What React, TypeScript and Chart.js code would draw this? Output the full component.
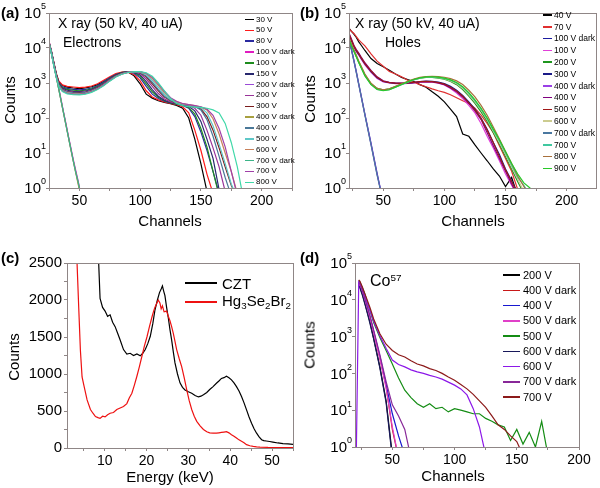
import React, { useEffect, useRef } from "react";
import { Chart, registerables } from "chart.js";

Chart.register(...registerables);

const FONT = '"Liberation Sans", Arial, Helvetica, sans-serif';
const AXIS = "#8f8686";

// ---------------- Panel (a): X ray, electrons ----------------
const aChannels = [25, 27, 29, 31, 33, 36, 40, 45, 50, 55, 60, 65, 70, 75, 80, 85, 90, 95, 100, 105, 110, 115, 120, 125, 130, 135, 140, 145, 150, 155, 160, 165, 170, 175, 180, 185];
const aDarkChannels = [25, 27, 29, 31, 33, 35, 37, 39, 41, 43, 45, 47, 49, 51];
const a30V = [15000, 8000, 3800, 1800, 1100, 850, 760, 720, 690, 730, 780, 900, 1100, 1400, 1750, 2000, 2050, 1600, 950, 480, 370, 310, 280, 255, 230, 190, 100, 25, 5, 0.8];
const a50V = [15500, 8200, 3900, 1900, 1150, 880, 800, 770, 740, 760, 820, 950, 1200, 1500, 1850, 2050, 2050, 1750, 1150, 600, 400, 330, 290, 260, 240, 210, 140, 45, 12, 2.5, 0.7];
const a80V = [15000, 8000, 3700, 1800, 1050, 780, 700, 660, 640, 660, 720, 850, 1080, 1400, 1750, 2000, 2100, 1900, 1400, 800, 480, 360, 300, 270, 250, 230, 190, 110, 40, 12, 3, 0.7];
const a100Vd = [16000, 7500, 3400, 1600, 720, 330, 145, 68, 30, 14, 6.5, 3.2, 1.6, 0.7];
const a100V = [14500, 7800, 3600, 1750, 1000, 740, 660, 620, 600, 620, 680, 800, 1020, 1350, 1700, 1980, 2100, 2000, 1550, 950, 560, 390, 310, 270, 250, 235, 200, 130, 50, 15, 3, 0.6];
const a150V = [14500, 7600, 3500, 1700, 950, 700, 620, 580, 570, 590, 650, 770, 980, 1300, 1650, 1950, 2100, 2050, 1700, 1100, 650, 420, 320, 275, 255, 240, 215, 160, 80, 25, 7, 0.9];
const a200Vd = [15500, 7200, 3300, 1500, 690, 310, 140, 64, 29, 13, 6, 2.9, 1.4, 0.6];
const a200V = [14000, 7400, 3400, 1650, 900, 660, 580, 550, 540, 560, 620, 740, 950, 1250, 1600, 1900, 2080, 2100, 1850, 1300, 800, 500, 350, 290, 260, 245, 225, 190, 120, 45, 14, 4, 0.8];
const a300V = [14000, 7300, 3300, 1600, 880, 640, 560, 530, 520, 540, 600, 720, 920, 1220, 1580, 1880, 2060, 2120, 1950, 1500, 950, 600, 400, 310, 270, 250, 235, 215, 180, 110, 45, 14, 4, 1.2, 0.5];
const a400Vd = [15000, 7000, 3200, 1450, 670, 300, 135, 62, 28, 12.5, 5.8, 2.7, 1.3, 0.6];
const a400V = [13500, 7200, 3300, 1600, 870, 630, 550, 520, 510, 530, 590, 700, 900, 1200, 1550, 1850, 2050, 2100, 2000, 1600, 1050, 650, 420, 320, 275, 250, 235, 215, 170, 90, 30, 8, 2, 0.6];
const a500V = [13500, 7100, 3200, 1550, 850, 610, 530, 500, 495, 515, 575, 690, 880, 1180, 1530, 1830, 2030, 2120, 2050, 1750, 1200, 750, 470, 340, 280, 250, 235, 220, 195, 140, 60, 18, 5, 1.3, 0.5];
const a600V = [13000, 7000, 3200, 1550, 840, 600, 520, 490, 485, 505, 565, 680, 870, 1170, 1520, 1820, 2020, 2130, 2080, 1850, 1350, 850, 530, 360, 290, 255, 240, 225, 205, 170, 95, 35, 10, 3, 0.7];
const a700Vd = [15000, 7100, 3250, 1480, 680, 305, 138, 63, 28, 13, 6, 2.8, 1.5, 0.7];
const a700V = [13000, 6900, 3100, 1500, 830, 590, 510, 480, 475, 495, 555, 670, 860, 1160, 1510, 1810, 2010, 2130, 2100, 1900, 1450, 950, 580, 380, 300, 260, 240, 225, 210, 180, 120, 50, 15, 3, 0.6];
const a800V = [13000, 6800, 3000, 1450, 800, 570, 490, 465, 460, 480, 540, 650, 840, 1130, 1480, 1780, 1990, 2120, 2120, 1950, 1550, 1000, 600, 360, 260, 225, 210, 205, 200, 190, 170, 140, 70, 20, 4, 0.5];
const aTicksX = [25, 50, 75, 100, 125, 150, 175, 200, 225];

// ---------------- Panel (b): X ray, holes ----------------
const bChannels = [22, 24, 26, 28, 30, 32, 35, 40, 45, 50, 55, 60, 65, 70, 75, 80, 85, 90, 95, 100, 105, 110, 115, 120, 125, 130, 135, 140, 145, 150, 155, 160, 165, 170, 175];
const b40V = [37000, 30000, 25000, 20000, 15000, 12000, 8500, 5000, 3600, 2900, 2300, 1800, 1450, 1250, 1100, 900, 760, 560, 420, 290, 180, 110, 35, 30, 17, 10, 6, 3.5, 2.2, 1.1, 2, 0.6];
const b70V = [35000, 30000, 26000, 21000, 17000, 14500, 11500, 6800, 4200, 3000, 2150, 1800, 1500, 1200, 1050, 900, 780, 680, 600, 540, 460, 380, 310, 260, 190, 120, 70, 38, 16, 7, 3, 0.9];
const b100Vd = [17000, 9500, 4500, 2100, 950, 430, 130, 19, 2.6, 0.4];
const b100V = [22000, 15000, 10500, 7800, 6200, 4800, 3300, 2000, 1350, 1080, 1000, 960, 950, 970, 1000, 1050, 1080, 1060, 990, 880, 700, 520, 360, 230, 140, 70, 30, 14, 6, 2.5, 1.2, 0.6];
const b200V = [18000, 12000, 8500, 5800, 4000, 2800, 1700, 950, 700, 640, 680, 790, 920, 1080, 1250, 1380, 1450, 1450, 1380, 1280, 1100, 900, 650, 420, 260, 150, 80, 38, 18, 8, 3.5, 1.5, 0.7];
const b300V = [24000, 16000, 11000, 8200, 6500, 5000, 3500, 2100, 1400, 1100, 1020, 980, 970, 990, 1030, 1100, 1130, 1120, 1060, 960, 800, 620, 440, 290, 180, 100, 48, 20, 9, 3.5, 1.6, 0.7];
const b400Vd = [16000, 9000, 4300, 2000, 900, 410, 125, 18, 2.4, 0.4];
const b400V = [27000, 18000, 12000, 9000, 7200, 5500, 3800, 2300, 1500, 1150, 1050, 1000, 990, 1000, 1020, 1080, 1100, 1080, 1000, 900, 720, 560, 400, 260, 160, 90, 38, 16, 7, 3, 1.3, 0.6];
const b500V = [25000, 17000, 11500, 8500, 6800, 5200, 3600, 2200, 1450, 1120, 1030, 990, 980, 1000, 1040, 1090, 1120, 1100, 1030, 930, 760, 590, 420, 270, 170, 95, 45, 20, 8, 3.3, 1.5, 0.7];
const b600V = [19000, 12500, 8800, 6000, 4100, 2900, 1750, 960, 690, 630, 660, 770, 910, 1070, 1240, 1380, 1460, 1470, 1420, 1320, 1150, 950, 700, 460, 290, 170, 90, 42, 20, 9, 4, 1.8, 0.8];
const b700Vd = [15500, 8800, 4200, 1950, 880, 400, 120, 17, 2.3, 0.4];
const b700V = [18500, 12000, 8400, 5700, 3900, 2750, 1650, 920, 660, 610, 650, 760, 900, 1060, 1230, 1370, 1460, 1490, 1450, 1360, 1200, 1000, 750, 500, 310, 180, 95, 45, 22, 10, 4.5, 2, 1.2, 0.6];
const b800V = [19500, 13000, 9000, 6200, 4200, 3000, 1800, 980, 700, 640, 680, 800, 950, 1120, 1300, 1440, 1520, 1560, 1530, 1460, 1330, 1150, 900, 620, 400, 230, 120, 55, 25, 11, 5, 2.2, 1.1, 0.6];
const b900V = [17500, 11500, 8000, 5500, 3800, 2700, 1600, 900, 650, 600, 640, 760, 910, 1080, 1260, 1400, 1490, 1510, 1470, 1380, 1230, 1030, 780, 530, 330, 190, 100, 48, 24, 11, 5, 2.5, 1.4, 1, 0.6];
const bTicksX = [25, 50, 75, 100, 125, 150, 175, 200];

// ---------------- Panel (c): energy spectra ----------------
const cCztEnergy = [8.5, 8.9, 9.5, 10.1, 10.7, 11.3, 11.9, 12.5, 13.1, 13.7, 14.5, 15.3, 16.1, 16.9, 17.7, 18.5, 19.1, 19.7, 20.3, 20.9, 21.5, 22.0, 22.6, 23.1, 23.5, 23.8, 24.1, 24.4, 24.8, 25.2, 25.6, 26.0, 26.4, 26.8, 27.4, 28.0, 28.6, 29.2, 30.0, 30.8, 31.6, 32.4, 33.0, 33.6, 34.4, 35.1, 35.9, 36.7, 37.3, 37.9, 38.5, 39.1, 39.7, 40.3, 40.9, 41.5, 42.1, 42.7, 43.3, 43.9, 44.5, 45.1, 45.7, 46.3, 46.9, 47.5, 48.0, 48.6, 49.4, 50.2, 51.4, 52.6, 53.8, 55];
const cCztCounts = [2600, 2020, 1900, 1850, 1780, 1800, 1700, 1640, 1550, 1460, 1330, 1270, 1280, 1250, 1270, 1245, 1280, 1330, 1410, 1510, 1680, 1860, 2000, 2100, 2150, 2190, 2120, 2060, 1900, 1760, 1600, 1460, 1300, 1150, 1000, 880, 820, 785, 760, 740, 710, 690, 700, 720, 750, 790, 830, 875, 905, 940, 950, 970, 950, 920, 880, 830, 770, 695, 610, 515, 420, 335, 260, 200, 150, 112, 100, 95, 88, 80, 68, 58, 55, 50];
const cHgEnergy = [3.2, 3.4, 3.8, 4.2, 4.6, 5.1, 5.8, 6.6, 7.2, 7.8, 8.4, 8.9, 9.5, 10.1, 10.7, 11.3, 12.1, 12.9, 13.7, 14.5, 15.3, 15.9, 16.5, 17.1, 17.7, 18.3, 18.9, 19.5, 20.1, 20.7, 21.3, 21.7, 22.0, 22.4, 22.8, 23.2, 23.5, 23.8, 24.2, 24.8, 25.2, 25.6, 26.0, 26.4, 26.8, 27.2, 27.8, 28.4, 29.0, 29.6, 30.2, 30.8, 31.4, 32.0, 32.8, 33.6, 34.4, 35.1, 35.9, 36.7, 37.3, 37.9, 38.5, 39.1, 39.7, 40.3, 40.9, 41.5, 42.1, 42.7, 43.3, 43.9, 44.7, 45.5, 46.3, 47.1, 49, 52, 55];
const cHgCounts = [2700, 2500, 1900, 1320, 960, 830, 650, 520, 470, 425, 410, 400, 430, 420, 450, 470, 480, 520, 540, 560, 600, 680, 740, 850, 970, 1100, 1240, 1380, 1500, 1640, 1770, 1850, 1900, 1950, 2000, 1960, 1880, 1920, 1840, 1850, 1780, 1720, 1640, 1550, 1440, 1330, 1210, 1100, 950, 790, 640, 520, 430, 360, 300, 250, 220, 205, 200, 200, 205, 210, 215, 220, 205, 180, 160, 135, 110, 90, 70, 45, 30, 22, 16, 12, 8, 6, 5];
const cTicksX = [5, 10, 15, 20, 25, 30, 35, 40, 45, 50, 55];
const cTicksY = [0, 250, 500, 750, 1000, 1250, 1500, 1750, 2000, 2250, 2500];

// ---------------- Panel (d): Co-57 ----------------
const dChannels = [21, 23, 24, 26, 28, 30, 32, 35, 40, 45, 50, 55, 60, 65, 70, 75, 80, 85, 90, 95, 100, 105, 110, 115, 120, 125, 130, 135, 140, 145, 150, 155, 160, 165, 170, 175];
const d200V = [null, 25000, 22000, 14000, 8000, 4500, 2500, 900, 150, 18, 0.6];
const d400Vd = [null, 28000, 25000, 16000, 9500, 5500, 3200, 1300, 260, 45, 3, 0.5];
const d400V = [null, 28000, 25000, 16500, 10000, 6000, 3500, 1400, 290, 50, 8, 2, 0.6];
const d500Vd = [null, 27000, 24000, 15500, 9200, 5300, 3100, 1250, 250, 40, 3.5, 0.5];
const d500V = [null, 33000, 30000, 21000, 14000, 8500, 5200, 2400, 950, 420, 180, 75, 35, 22, 15, 12, 15, 11, 12, 9, 11, 10, 9, 8, 8, 6, 5, 4, 3.5, 1.5, 3, 1.2, 2.5, 1, 5, 0.6];
const d600Vd = [null, 24000, 21000, 13000, 7500, 4200, 2300, 850, 140, 16, 0.5];
const d600V = [0.5, 31000, 28000, 19000, 12500, 8000, 5200, 2600, 1050, 480, 230, 175, 150, 125, 110, 100, 88, 80, 70, 58, 48, 38, 26, 11, 3.5, 0.6];
const d700Vd = [null, 30000, 27000, 17500, 10500, 6300, 3700, 1500, 320, 60, 14, 7, 3, 0.5];
const d700V = [null, 35000, 32000, 22000, 14500, 9500, 6200, 3000, 1200, 620, 420, 320, 280, 220, 180, 160, 135, 120, 100, 80, 65, 50, 38, 27, 18, 12, 7, 4, 3, 2, 1.4, 0.6];
const dTicksX = [25, 50, 75, 100, 125, 150, 175, 200];

const logTicks = [1, 10, 100, 1000, 10000, 100000];

type Series = { label: string; color: string; x: number[]; y: (number | null)[] };

const aSeries: Series[] = [
  { label: "30 V", color: "#000000", x: aChannels, y: a30V },
  { label: "50 V", color: "#ff1a1a", x: aChannels, y: a50V },
  { label: "80 V", color: "#2a2aa0", x: aChannels, y: a80V },
  { label: "100 V dark", color: "#e01cc0", x: aDarkChannels, y: a100Vd },
  { label: "100 V", color: "#1e8c1e", x: aChannels, y: a100V },
  { label: "150 V", color: "#28286e", x: aChannels, y: a150V },
  { label: "200 V dark", color: "#9a4ad6", x: aDarkChannels, y: a200Vd },
  { label: "200 V", color: "#993399", x: aChannels, y: a200V },
  { label: "300 V", color: "#7a1c1c", x: aChannels, y: a300V },
  { label: "400 V dark", color: "#a8a040", x: aDarkChannels, y: a400Vd },
  { label: "400 V", color: "#4a7898", x: aChannels, y: a400V },
  { label: "500 V", color: "#5ec8c8", x: aChannels, y: a500V },
  { label: "600 V", color: "#c8805a", x: aChannels, y: a600V },
  { label: "700 V dark", color: "#3cb488", x: aDarkChannels, y: a700Vd },
  { label: "700 V", color: "#a040a8", x: aChannels, y: a700V },
  { label: "800 V", color: "#40d8a8", x: aChannels, y: a800V },
];

const bSeries: Series[] = [
  { label: "40 V", color: "#000000", x: bChannels, y: b40V },
  { label: "70 V", color: "#e03030", x: bChannels, y: b70V },
  { label: "100 V dark", color: "#1c1ca0", x: bChannels, y: b100Vd },
  { label: "100 V", color: "#e040d8", x: bChannels, y: b100V },
  { label: "200 V", color: "#1e961e", x: bChannels, y: b200V },
  { label: "300 V", color: "#1a1a88", x: bChannels, y: b300V },
  { label: "400 V dark", color: "#9a40e6", x: bChannels, y: b400Vd },
  { label: "400 V", color: "#800080", x: bChannels, y: b400V },
  { label: "500 V", color: "#a01818", x: bChannels, y: b500V },
  { label: "600 V", color: "#cccc90", x: bChannels, y: b600V },
  { label: "700 V dark", color: "#4a78a0", x: bChannels, y: b700Vd },
  { label: "700 V", color: "#40c8a0", x: bChannels, y: b700V },
  { label: "800 V", color: "#a8703c", x: bChannels, y: b800V },
  { label: "900 V", color: "#28c828", x: bChannels, y: b900V },
];

const cSeries: Series[] = [
  { label: "CZT", color: "#000000", x: cCztEnergy, y: cCztCounts },
  { label: "Hg3Se2Br2", color: "#ee1111", x: cHgEnergy, y: cHgCounts },
];

const dSeries: Series[] = [
  { label: "200 V", color: "#000000", x: dChannels, y: d200V },
  { label: "400 V dark", color: "#c81818", x: dChannels, y: d400Vd },
  { label: "400 V", color: "#1818d0", x: dChannels, y: d400V },
  { label: "500 V dark", color: "#e040c8", x: dChannels, y: d500Vd },
  { label: "500 V", color: "#148c14", x: dChannels, y: d500V },
  { label: "600 V dark", color: "#18185a", x: dChannels, y: d600Vd },
  { label: "600 V", color: "#8c18e8", x: dChannels, y: d600V },
  { label: "700 V dark", color: "#882898", x: dChannels, y: d700Vd },
  { label: "700 V", color: "#8c1a1a", x: dChannels, y: d700V },
];

function toPoints(xs: number[], ys: (number | null)[]) {
  const pts: { x: number; y: number }[] = [];
  for (let i = 0; i < xs.length && i < ys.length; i++) {
    const v = ys[i];
    if (v !== null && v !== undefined) pts.push({ x: xs[i], y: v });
  }
  return pts;
}

function datasets(series: Series[], width = 1.2) {
  return series.map((s, i) => ({
    label: s.label,
    data: toPoints(s.x, s.y),
    borderColor: s.color,
    backgroundColor: s.color,
    borderWidth: width,
    pointRadius: 0,
    pointHoverRadius: 0,
    fill: false,
    tension: 0,
    order: -i,
  }));
}

const framePlugin = {
  id: "frame",
  afterDraw(chart: any) {
    const { ctx, chartArea: a } = chart;
    ctx.save();
    ctx.strokeStyle = AXIS;
    ctx.lineWidth = 1;
    ctx.strokeRect(Math.round(a.left) + 0.5, Math.round(a.top) + 0.5, Math.round(a.right - a.left), Math.round(a.bottom - a.top));
    ctx.restore();
  },
};

const logLabelPlugin = {
  id: "logLabels",
  afterDraw(chart: any) {
    const y = chart.scales.y;
    const ctx = chart.ctx;
    ctx.save();
    ctx.fillStyle = "#000";
    ctx.textAlign = "left";
    for (const t of y.ticks) {
      const py = y.getPixelForValue(t.value);
      const es = String(Math.round(Math.log10(t.value)));
      ctx.font = `9px ${FONT}`;
      const ew = ctx.measureText(es).width;
      ctx.font = `15px ${FONT}`;
      const bw = ctx.measureText("10").width;
      const xr = chart.chartArea.left - 3;
      ctx.textBaseline = "middle";
      ctx.fillText("10", xr - ew - bw, py + 1);
      ctx.font = `9px ${FONT}`;
      ctx.fillText(es, xr - ew, py - 6);
    }
    ctx.restore();
  },
};

function gridOpts() {
  return { display: true, drawOnChartArea: false, drawTicks: true, tickLength: 3, color: AXIS, lineWidth: 1 };
}

function logConfig(series: Series[], xmin: number, xmax: number, xticks: number[], pad: any, yWidth: number, xHeight: number): any {
  return {
    type: "line",
    data: { datasets: datasets(series) },
    options: {
      responsive: false,
      maintainAspectRatio: false,
      animation: false,
      devicePixelRatio: 1,
      layout: { padding: pad },
      plugins: { legend: { display: false }, tooltip: { enabled: false } },
      scales: {
        x: {
          type: "linear",
          min: xmin,
          max: xmax,
          afterBuildTicks: (s: any) => { s.ticks = xticks.map((v) => ({ value: v })); },
          afterFit: (s: any) => { s.height = xHeight; },
          ticks: { autoSkip: false, maxRotation: 0, padding: 2, color: "#000", font: { family: FONT, size: 14 }, callback: (v: number) => (v % 50 === 0 ? String(v) : "") },
          grid: gridOpts(),
          border: { display: true, color: AXIS },
        },
        y: {
          type: "logarithmic",
          min: 1,
          max: 100000,
          afterBuildTicks: (s: any) => { s.ticks = logTicks.map((v) => ({ value: v })); },
          afterFit: (s: any) => { s.width = yWidth; },
          ticks: { display: false },
          grid: gridOpts(),
          border: { display: true, color: AXIS },
        },
      },
    },
    plugins: [framePlugin, logLabelPlugin],
  };
}

function energyConfig(): any {
  return {
    type: "line",
    data: { datasets: datasets(cSeries, 1.2) },
    options: {
      responsive: false,
      maintainAspectRatio: false,
      animation: false,
      devicePixelRatio: 1,
      layout: { padding: { left: 0, top: 23, right: 7, bottom: 0 } },
      plugins: { legend: { display: false }, tooltip: { enabled: false } },
      scales: {
        x: {
          type: "linear",
          min: 1,
          max: 55,
          afterBuildTicks: (s: any) => { s.ticks = cTicksX.map((v) => ({ value: v })); },
          afterFit: (s: any) => { s.height = 40; },
          ticks: { autoSkip: false, maxRotation: 0, padding: 2, color: "#000", font: { family: FONT, size: 14 }, callback: (v: number) => (v % 10 === 0 ? String(v) : "") },
          grid: gridOpts(),
          border: { display: true, color: AXIS },
        },
        y: {
          type: "linear",
          min: 0,
          max: 2500,
          afterBuildTicks: (s: any) => { s.ticks = cTicksY.map((v) => ({ value: v })); },
          afterFit: (s: any) => { s.width = 67; },
          ticks: { autoSkip: false, padding: 2, color: "#000", font: { family: FONT, size: 15 }, callback: (v: number) => (v % 500 === 0 ? String(v) : "") },
          grid: gridOpts(),
          border: { display: true, color: AXIS },
        },
      },
    },
    plugins: [framePlugin],
  };
}

function ChartCanvas({ left, top, width, height, make }: { left: number; top: number; width: number; height: number; make: () => any }) {
  const ref = useRef<HTMLCanvasElement>(null);
  useEffect(() => {
    if (!ref.current) return;
    const chart = new Chart(ref.current, make());
    return () => chart.destroy();
  }, []);
  return <canvas ref={ref} width={width} height={height} style={{ position: "absolute", left, top, width, height }} />;
}

function Txt({ left, top, size, children, bold, center }: any) {
  return (
    <div style={{ position: "absolute", left, top, fontSize: size, lineHeight: 1, whiteSpace: "nowrap", fontWeight: bold ? "bold" : "normal", transform: center ? "translateX(-50%)" : undefined, color: "#000" }}>
      {children}
    </div>
  );
}

function VTxt({ cx, cy, size, children }: any) {
  return (
    <div style={{ position: "absolute", left: cx, top: cy, fontSize: size, lineHeight: 1, whiteSpace: "nowrap", transform: "translate(-50%, -50%) rotate(-90deg)", color: "#000" }}>
      {children}
    </div>
  );
}

function subDigits(label: string) {
  const parts = label.split(/(\d+)/);
  return parts.map((p, i) => (/^\d+$/.test(p) ? <sub key={i} style={{ fontSize: "0.65em", verticalAlign: "-0.3em" }}>{p}</sub> : <span key={i}>{p}</span>));
}

function Legend({ series, x, y0, dy, lineW, gap, size, lineH, subs }: any) {
  return (
    <>
      {series.map((s: Series, i: number) => (
        <div key={i} style={{ position: "absolute", left: x, top: y0 + i * dy - size / 2, height: size, display: "flex", alignItems: "center", fontSize: size, lineHeight: 1, whiteSpace: "nowrap", color: "#000" }}>
          <span style={{ display: "inline-block", width: lineW, height: lineH, background: s.color, marginRight: gap }} />
          <span>{subs ? subDigits(s.label) : s.label}</span>
        </div>
      ))}
    </>
  );
}

export default function App() {
  return (
    <div style={{ position: "fixed", left: 0, top: 0, width: 600, height: 488, background: "#fff", overflow: "hidden", fontFamily: FONT }}>
      <ChartCanvas left={0} top={0} width={300} height={240} make={() => logConfig(aSeries, 25, 225, aTicksX, { left: 0, top: 13, right: 8, bottom: 0 }, 49, 52)} />
      <ChartCanvas left={300} top={0} width={300} height={240} make={() => logConfig(bSeries, 22, 224, bTicksX, { left: 0, top: 13, right: 4, bottom: 0 }, 49, 52)} />
      <ChartCanvas left={0} top={240} width={300} height={248} make={energyConfig} />
      <ChartCanvas left={300} top={240} width={300} height={248} make={() => logConfig(dSeries, 20, 200, dTicksX, { left: 0, top: 23, right: 21, bottom: 0 }, 55, 41)} />

      {/* Panel (a) texts */}
      <Txt left={1} top={5} size={15} bold>(a)</Txt>
      <Txt left={58} top={16} size={14}>X ray (50 kV, 40 uA)</Txt>
      <Txt left={63} top={35} size={14}>Electrons</Txt>
      <VTxt cx={9} cy={100} size={15}>Counts</VTxt>
      <Txt left={170} top={213} size={15} center>Channels</Txt>
      <Legend series={aSeries} x={245} y0={19.5} dy={10.85} lineW={9} gap={2} size={8} lineH={1.5} />

      {/* Panel (b) texts */}
      <Txt left={300} top={5} size={15} bold>(b)</Txt>
      <Txt left={355} top={16} size={14}>X ray (50 kV, 40 uA)</Txt>
      <Txt left={385} top={35} size={14}>Holes</Txt>
      <VTxt cx={309} cy={99} size={15}>Counts</VTxt>
      <Txt left={473} top={213} size={15} center>Channels</Txt>
      <Legend series={bSeries} x={543} y0={15} dy={11.8} lineW={9} gap={2} size={8.5} lineH={1.5} />

      {/* Panel (c) texts */}
      <Txt left={1} top={250} size={15} bold>(c)</Txt>
      <VTxt cx={13} cy={357} size={15}>Counts</VTxt>
      <Txt left={170} top={469} size={15} center>Energy (keV)</Txt>
      <Legend series={cSeries} x={185} y0={283} dy={19} lineW={32} gap={5} size={15} lineH={1.5} subs />

      {/* Panel (d) texts */}
      <Txt left={300} top={250} size={15} bold>(d)</Txt>
      <Txt left={370} top={273} size={16}>Co<sup style={{ fontSize: "0.62em", verticalAlign: "0.55em" }}>57</sup></Txt>
      <VTxt cx={309} cy={345} size={15}>Counts</VTxt>
      <Txt left={453} top={468} size={15} center>Channels</Txt>
      <Legend series={dSeries} x={503} y0={275} dy={15.25} lineW={17} gap={3} size={11} lineH={1.5} />
    </div>
  );
}
